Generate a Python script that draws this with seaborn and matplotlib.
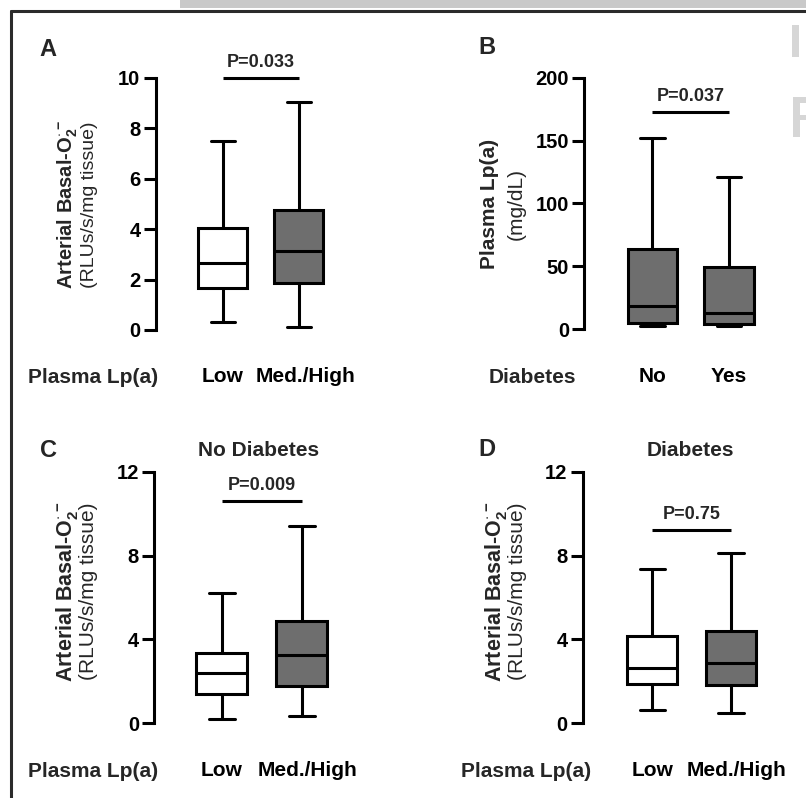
import numpy as np
import pandas as pd
import seaborn as sns
import matplotlib.pyplot as plt
from matplotlib.lines import Line2D
from matplotlib.patches import Rectangle
from matplotlib.transforms import ScaledTranslation

W, H = 806, 798

# five-number summaries (min, Q1, median, Q3, max)
lp_groups = ["Low", "Med./High"]
diab_groups = ["No", "Yes"]
a_low = [0.3, 1.65, 2.65, 4.05, 7.5]
a_high = [0.13, 1.88, 3.15, 4.76, 9.05]
b_no = [2.9, 5.3, 18.8, 63.6, 152]
b_yes = [2.9, 4.2, 12.7, 49.8, 121.3]
c_low = [0.2, 1.38, 2.38, 3.37, 6.2]
c_high = [0.37, 1.8, 3.24, 4.9, 9.4]
d_low = [0.62, 1.87, 2.62, 4.18, 7.36]
d_high = [0.5, 1.83, 2.89, 4.42, 8.1]

p_values = ["P=0.033", "P=0.037", "P=0.009", "P=0.75"]
p_heights = [10, 173, 10.6, 9.2]

sns.set_theme(style="ticks")
plt.rcParams["font.family"] = ["Liberation Sans", "DejaVu Sans"]
plt.rcParams["font.weight"] = "bold"
plt.rcParams["mathtext.fontset"] = "custom"
plt.rcParams["mathtext.rm"] = "Liberation Sans:bold"
plt.rcParams["mathtext.bf"] = "Liberation Sans:bold"
plt.rcParams["mathtext.default"] = "bf"

GRAY = "#6e6e6e"
LW = 2.2

fig = plt.figure(figsize=(W / 100, H / 100), dpi=100)


def px(x, y):
    return x / W, 1 - y / H


def panel(left, top, bottom, unit, cat0, cats, series, colors, ylim, yticks, p_text, p_y, shift=0):
    x0 = -(cat0 - left) / unit
    x1 = 1 + 75 / unit
    width = (x1 - x0) * unit
    ax = fig.add_axes([left / W, 1 - bottom / H, width / W, (bottom - top) / H])
    df = pd.DataFrame({
        "group": np.repeat(cats, [len(s) for s in series]),
        "value": np.concatenate(series),
    })
    sns.boxplot(data=df, x="group", y="value", hue="group", order=cats, hue_order=cats,
                palette=colors, saturation=1, whis=(0, 100), width=0.64,
                linewidth=LW, linecolor="black", legend=False, ax=ax)
    ax.set_xlim(x0, x1)
    ax.set_ylim(*ylim)
    ax.set_yticks(yticks)
    ax.set_xlabel("")
    ax.set_ylabel("")
    sns.despine(ax=ax, bottom=True)
    ax.spines["left"].set_linewidth(LW)
    ax.spines["left"].set_color("black")
    ax.tick_params(axis="y", length=8.5, width=LW, pad=2.5, labelsize=14.5, colors="black")
    ax.tick_params(axis="x", length=0, pad=27, labelsize=15, colors="black")
    if shift:
        lab = ax.get_xticklabels()[1]
        lab.set_transform(lab.get_transform() + ScaledTranslation(shift / 100, 0, fig.dpi_scale_trans))
    ax.plot([0, 1], [p_y, p_y], color="black", lw=LW, clip_on=False, solid_capstyle="butt")
    ax.annotate(p_text, xy=(0.5, p_y), xytext=(0, 8), textcoords="offset points",
                ha="center", va="baseline", fontsize=13, fontweight="bold", annotation_clip=False)
    return ax


panel(155.7, 77.7, 330, 76, 222.7, lp_groups, [a_low, a_high], ["white", GRAY],
      (0, 10), [0, 2, 4, 6, 8, 10], p_values[0], p_heights[0], shift=7)
panel(584.3, 77.7, 329.3, 76.7, 652.3, diab_groups, [b_no, b_yes], [GRAY, GRAY],
      (0, 200), [0, 50, 100, 150, 200], p_values[1], p_heights[1])
panel(154.3, 471.7, 723.3, 80, 221.7, lp_groups, [c_low, c_high], ["white", GRAY],
      (0, 12), [0, 4, 8, 12], p_values[2], p_heights[2], shift=6)
panel(582.7, 471.7, 723.3, 78.7, 652.3, lp_groups, [d_low, d_high], ["white", GRAY],
      (0, 12), [0, 4, 8, 12], p_values[3], p_heights[3], shift=6)

# y axis labels (bold first line, regular second line)
o2 = "Arterial Basal-O$_2^{\\cdot-}$"
units = "(RLUs/s/mg tissue)"
for (x1, x2, yc, s1, s2, f1, f2) in [
    (68, 89, 205, o2, units, 14.5, 14),
    (490, 516.7, 204, "Plasma Lp(a)", "(mg/dL)", 15, 15),
    (67, 89, 591.6, o2, units, 15.5, 15),
    (496, 517.5, 591.6, o2, units, 15.5, 15),
]:
    fig.text(*px(x1, yc), s1, rotation=90, ha="center", va="center", fontsize=f1, fontweight="bold")
    fig.text(*px(x2, yc), s2, rotation=90, ha="center", va="center", fontsize=f2, fontweight="normal")

# group captions at the left of the category labels
for x, y, s in [(93, 383, "Plasma Lp(a)"), (532.5, 383, "Diabetes"),
                (93, 777, "Plasma Lp(a)"), (526, 777, "Plasma Lp(a)")]:
    fig.text(*px(x, y), s, ha="center", va="baseline", fontsize=15, fontweight="bold")

# panel letters and titles
for x, y, s in [(48, 49, "A"), (486.5, 48, "B"), (48.5, 450.5, "C"), (486.5, 450, "D")]:
    fig.text(*px(x, y), s, ha="center", va="center", fontsize=17, fontweight="bold")
fig.text(*px(258.5, 450), "No Diabetes", ha="center", va="center", fontsize=15, fontweight="bold")
fig.text(*px(690, 450), "Diabetes", ha="center", va="center", fontsize=15, fontweight="bold")

# page frame and faint artifacts
fig.add_artist(Rectangle(px(180, 8), (W - 180) / W, 8 / H, transform=fig.transFigure,
                         color="#c9c9c9", lw=0))
fig.add_artist(Line2D([11 / W, 11 / W], [0, 1 - 11 / H], transform=fig.transFigure,
                      color="#2b2b2b", lw=LW))
fig.add_artist(Line2D([11 / W, 1], [1 - 11 / H, 1 - 11 / H], transform=fig.transFigure,
                      color="#2b2b2b", lw=LW))
for x, y, w, h in [(792, 25, 7, 32), (793, 97, 7, 40), (793, 97, 13, 6), (793, 115, 13, 5)]:
    fig.add_artist(Rectangle(px(x, y + h), w / W, h / H, transform=fig.transFigure,
                             color="#d6d6d6", lw=0))

fig.savefig("out.png", dpi=100)
